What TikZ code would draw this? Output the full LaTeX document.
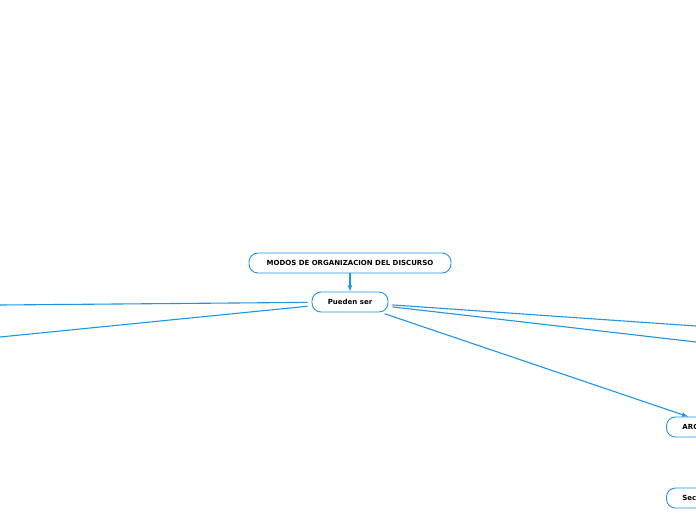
\documentclass[tikz,border=0pt]{standalone}
\usepackage{fontspec}
\setmainfont{DejaVu Sans}
\usepackage{xcolor}
\definecolor{mapblue}{RGB}{30,150,228}

\begin{document}
\begin{tikzpicture}[x=1pt,y=-1pt,
    topic/.style={draw=mapblue, line width=0.9pt, rounded corners=9pt, minimum height=20pt,
                  font=\fontsize{7}{8}\selectfont\bfseries, inner sep=0pt},
    edgetopic/.style={topic, anchor=west, inner xsep=16pt, text width=60pt, align=left},
    link/.style={mapblue, line width=1.1pt, shorten <=4pt}]
                \useasboundingbox (0,0) rectangle (696,520);
                \clip (0,0) rectangle (696,520);
                \fill[white] (0,0) rectangle (696,520);

                % central topics
                \node[topic, minimum width=202pt] (modos) at (350,263) {MODOS DE ORGANIZACION DEL DISCURSO};
                \node[topic, minimum width=76pt] (pueden) at (350,302) {Pueden ser};

                % topics cut by the right edge
                \node[edgetopic] (arg) at (666,427) {ARG};
                \node[edgetopic] (sec) at (666,498) {Sec};

                % free ends beyond the edges
                \coordinate (leftA) at (0,305);
                \coordinate (leftB) at (0,337);
                \coordinate (rightA) at (696,326);
                \coordinate (rightB) at (696,342);

                % connectors
                \draw[mapblue, line width=1.1pt, -latex] (modos) -- (pueden);
                \draw[link] (pueden) -- (leftA);
                \draw[link] (pueden) -- (leftB);
                \draw[link] (pueden) -- (rightA);
                \draw[link] (pueden) -- (rightB);
                \draw[link, -latex] (pueden) -- ([xshift=22pt]arg.north west);
            \end{tikzpicture}
\end{document}
